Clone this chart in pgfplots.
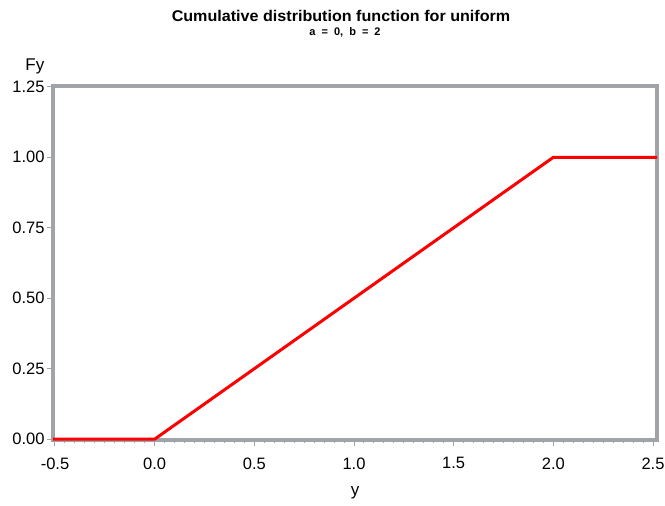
\documentclass[border=0pt]{standalone}
\usepackage{pgfplots}
\pgfplotsset{compat=1.18}
\usepackage{fontspec}
\setmainfont{Liberation Sans}
\definecolor{framegray}{RGB}{160,163,167}
\begin{document}
\begin{tikzpicture}[x=1pt,y=1pt]
\path[use as bounding box] (0,0) rectangle (665,506);
\begin{axis}[
  at={(53pt,66pt)}, anchor=south west,
  scale only axis, width=604pt, height=354pt,
  xmin=-0.51, xmax=2.52, ymin=-0.003, ymax=1.253,
  xtick={-0.5,0,0.5,1,1.5,2,2.5},
  ytick={0,0.25,0.5,0.75,1,1.25},
  minor x tick num=9,
  tick label style={font=\fontsize{16.5}{18}\selectfont},
  xticklabel style={yshift=-8pt, /pgf/number format/.cd,fixed,fixed zerofill,precision=1},
  yticklabel style={xshift=1pt, /pgf/number format/.cd,fixed,fixed zerofill,precision=2},
  /pgf/number format/assume math mode=true,
  axis line style={framegray, line width=3.5pt},
  every tick/.style={framegray, line width=1pt},
  tick align=outside,
  major tick length=6pt, minor tick length=3.5pt,
  xtick pos=bottom, ytick pos=left,
  xlabel={y}, ylabel={Fy},
  label style={font=\fontsize{17}{19}\selectfont},
  xlabel style={at={(axis description cs:0.5,0)}, anchor=center, yshift=-53pt},
  ylabel style={at={(axis description cs:-0.03,1.025)}, rotate=-90, anchor=south},
  clip=false,
]
\addplot[red, line width=3pt, line join=miter] coordinates {(-0.51,0) (0,0) (2,1) (2.52,1)};
\end{axis}
\node[font=\bfseries\fontsize{15.5}{17}\selectfont, xscale=1.04] at (341,490) {Cumulative distribution function for uniform};
\node[font=\bfseries\fontsize{11}{12}\selectfont] at (345,474) {\spaceskip=0.55em a = 0, b = 2};
\end{tikzpicture}
\end{document}
